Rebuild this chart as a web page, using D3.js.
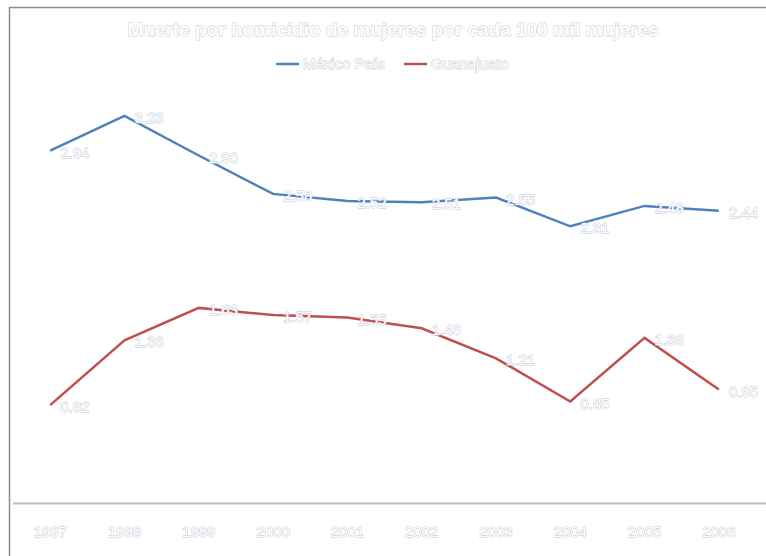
<!DOCTYPE html>
<html lang="es">
<head>
    <meta charset="UTF-8">
    <title>Muerte por homicidio de mujeres</title>
    <script src="https://d3js.org/d3.v7.min.js"></script>
    <style>
        body { margin: 0; background: #fff; }
        .lbl { fill: #fff; stroke: #bcc6d4; stroke-width: 0.9px; paint-order: stroke; font-family: "Liberation Sans", Arial, sans-serif; }
    </style>
</head>
<body>

<svg width="766" height="556"></svg>
<script>

    // valores
    var years = ["1997", "1998", "1999", "2000", "2001", "2002", "2003", "2004", "2005", "2006"];
    var mexico = [2.94, 3.23, 2.90, 2.58, 2.52, 2.51, 2.55, 2.31, 2.48, 2.44];
    var guanajuato = [0.82, 1.36, 1.63, 1.57, 1.55, 1.46, 1.21, 0.85, 1.38, 0.95];
    var seriesNames = ["México País", "Guanajuato"];
    var colors = ["#4f81bd", "#c0504d"];

    var svg = d3.select("svg"),
        width = +svg.attr("width"),
        height = +svg.attr("height");

    // borde del area del grafico
    svg.append("rect")
        .attr("x", 9.5).attr("y", 7.5)
        .attr("width", width).attr("height", height)
        .attr("fill", "none")
        .attr("stroke", "#8c8c8c")
        .attr("stroke-width", 1.5);

    var x = d3.scaleBand()
        .domain(years)
        .range([13, 756]);

    var y = d3.scaleLinear()
        .domain([0, 3.5])
        .range([503.5, 83.5]);

    // eje x
    var xAxis = svg.append("g")
        .attr("transform", "translate(0," + y(0) + ")")
        .call(d3.axisBottom(x).tickSize(0).tickPadding(23));
    xAxis.select(".domain").remove();
    xAxis.append("line")
        .attr("x1", 13).attr("x2", width)
        .attr("stroke", "#bcbcbc")
        .attr("stroke-width", 2);
    xAxis.selectAll("text")
        .attr("class", "lbl")
        .style("font-size", "15px");

    var series = [mexico, guanajuato];

    var line = d3.line()
        .x(function (d, i) { return x(years[i]) + x.bandwidth() / 2; })
        .y(function (d) { return y(d); });

    series.forEach(function (values, s) {
        svg.append("path")
            .datum(values)
            .attr("fill", "none")
            .attr("stroke", colors[s])
            .attr("stroke-width", 2.5)
            .attr("d", line);

        svg.selectAll(".val" + s)
            .data(values)
            .enter().append("text")
            .attr("class", "lbl val" + s)
            .attr("x", function (d, i) { return x(years[i]) + x.bandwidth() / 2 + 10; })
            .attr("y", function (d) { return y(d) + 7; })
            .style("font-size", "15px")
            .text(function (d) { return d.toFixed(2); });
    });

    // titulo
    svg.append("text")
        .attr("class", "lbl")
        .attr("x", 393)
        .attr("y", 36)
        .attr("text-anchor", "middle")
        .style("font-size", "19px")
        .style("font-weight", "bold")
        .text("Muerte por homicidio de mujeres por cada 100 mil mujeres");

    // leyenda
    var legendX = [276, 404];
    seriesNames.forEach(function (name, s) {
        var lg = svg.append("g").attr("transform", "translate(" + legendX[s] + ",64)");
        lg.append("line")
            .attr("x1", 0).attr("x2", 23)
            .attr("stroke", colors[s])
            .attr("stroke-width", 2.5);
        lg.append("text")
            .attr("class", "lbl")
            .attr("x", 27)
            .attr("y", 5)
            .style("font-size", "15px")
            .text(name);
    });

</script>

</body>
</html>
